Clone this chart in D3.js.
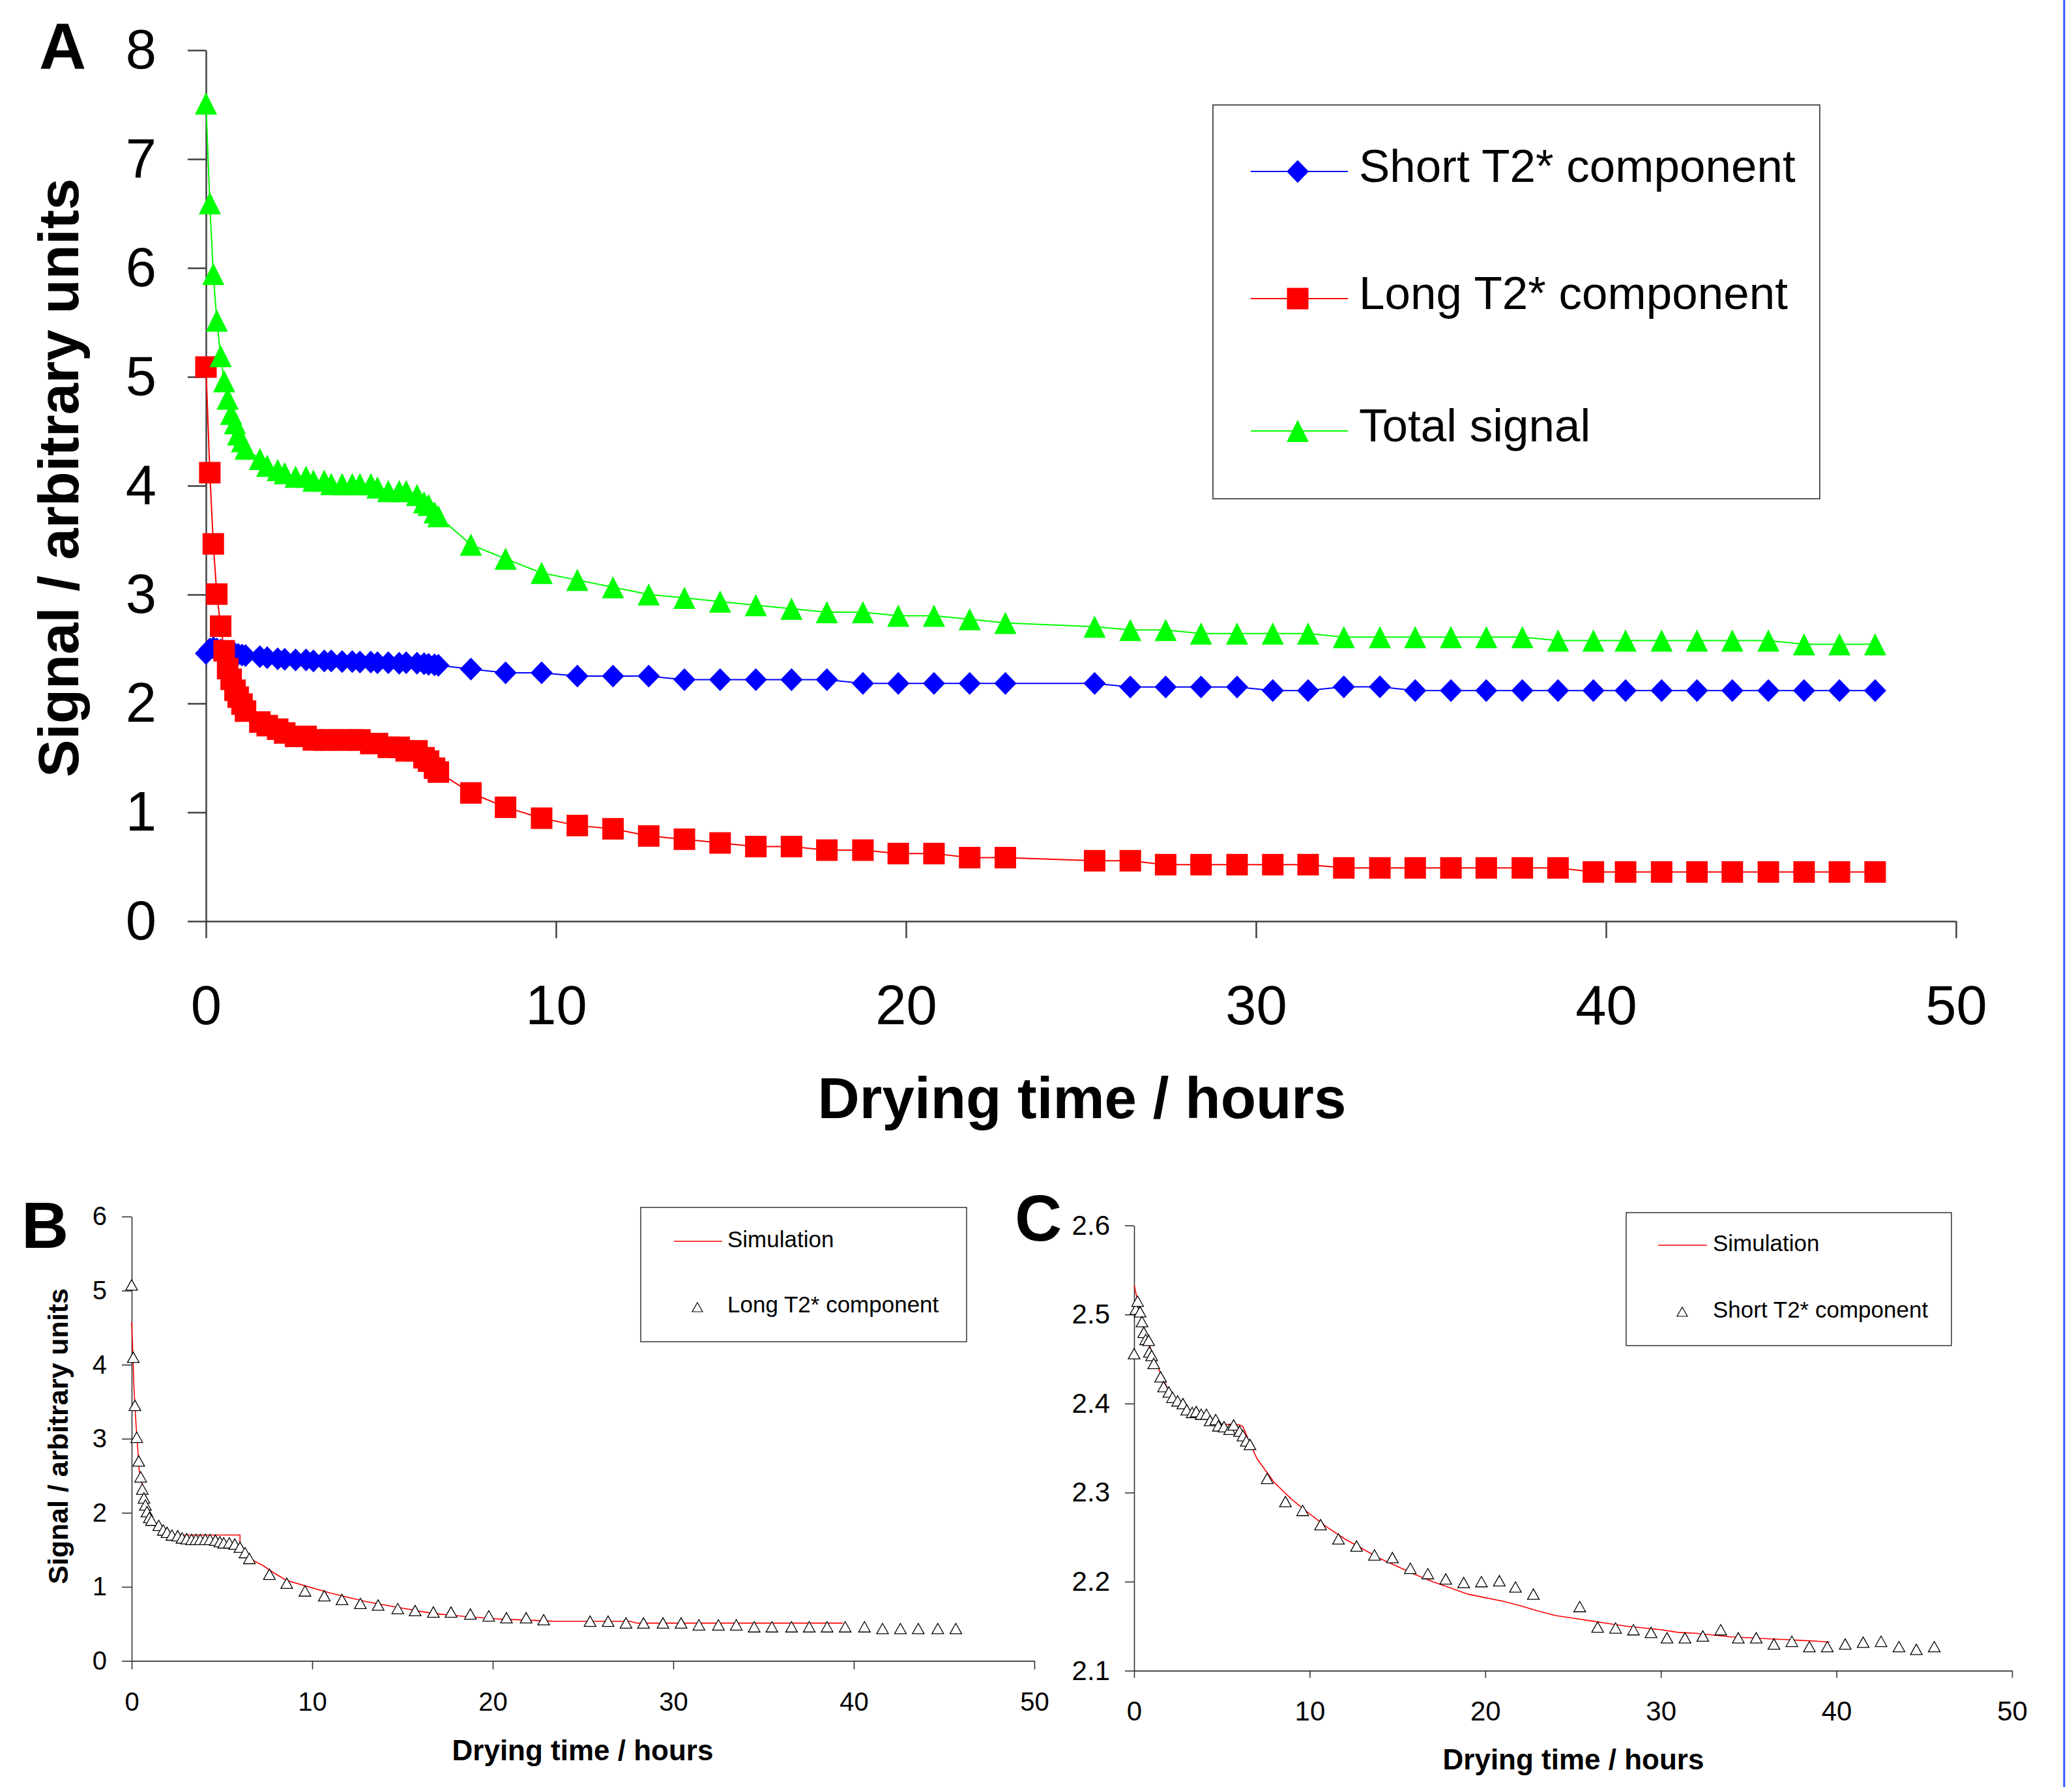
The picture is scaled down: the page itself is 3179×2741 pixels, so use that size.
<!DOCTYPE html>
<html>
<head>
<meta charset="utf-8">
<script src="https://cdn.jsdelivr.net/npm/d3@7"></script>
<style>
  body { margin: 0; background: #fff; }
  text { font-family: "Liberation Sans", Arial, Helvetica, sans-serif; }
</style>
</head>
<body>
<svg id="fig"></svg>
<script>
// ---------- data ----------
// Panel A: drying time (h) and the three signals
const aTime = [0, 0.11, 0.21, 0.31, 0.42, 0.52, 0.62, 0.72, 0.83, 0.92, 1.03, 1.13,
  1.54, 1.75, 2.05, 2.25, 2.56, 2.86, 3.07, 3.38, 3.58, 3.89, 4.18, 4.40, 4.71, 4.90,
  5.21, 5.52, 5.72, 6.03, 6.23, 6.36, 6.53, 6.64,
  7.57, 8.56, 9.59, 10.61, 11.63, 12.65, 13.67, 14.69, 15.71, 16.73, 17.74, 18.77,
  19.78, 20.80, 21.82, 22.84, 25.39, 26.41, 27.42, 28.43, 29.46, 30.48, 31.49, 32.51,
  33.54, 34.55, 35.57, 36.58, 37.61, 38.63, 39.64, 40.56, 41.59, 42.60, 43.61, 44.64,
  45.66, 46.67, 47.69];
const aShort = [2.46, 2.50, 2.51, 2.50, 2.49, 2.48, 2.47, 2.46, 2.455, 2.45, 2.445, 2.44,
  2.43, 2.42, 2.41, 2.405, 2.40, 2.40, 2.39, 2.39, 2.39, 2.385, 2.385, 2.38, 2.38, 2.375,
  2.375, 2.37, 2.375, 2.37, 2.365, 2.36, 2.355, 2.35,
  2.316, 2.282, 2.282, 2.251, 2.251, 2.251, 2.218, 2.218, 2.218, 2.218, 2.218, 2.184,
  2.184, 2.184, 2.184, 2.184, 2.184, 2.151, 2.151, 2.151, 2.151, 2.119, 2.119, 2.153,
  2.153, 2.119, 2.119, 2.119, 2.119, 2.119, 2.119, 2.119, 2.119, 2.119, 2.119, 2.119,
  2.119, 2.119, 2.119];
const aLong = [5.09, 4.12, 3.465, 3.004, 2.71, 2.483, 2.321, 2.221, 2.122, 2.058, 1.994, 1.93,
  1.829, 1.797, 1.763, 1.729, 1.697, 1.697, 1.665, 1.665, 1.665, 1.665, 1.665, 1.665, 1.632, 1.632,
  1.597, 1.597, 1.564, 1.564, 1.502, 1.47, 1.406, 1.37,
  1.178, 1.047, 0.946, 0.878, 0.849, 0.783, 0.753, 0.719, 0.686, 0.686, 0.652, 0.652,
  0.622, 0.622, 0.584, 0.584, 0.555, 0.555, 0.519, 0.519, 0.519, 0.519, 0.519, 0.489,
  0.489, 0.489, 0.489, 0.489, 0.489, 0.489, 0.452, 0.452, 0.452, 0.452, 0.452, 0.452,
  0.452, 0.452, 0.452];
const aTotal = [7.51, 6.595, 5.944, 5.517, 5.19, 4.96, 4.80, 4.66, 4.573, 4.472, 4.408, 4.34,
  4.246, 4.182, 4.143, 4.116, 4.083, 4.083, 4.047, 4.047, 4.015, 4.015, 4.015, 4.015, 4.015, 3.983,
  3.951, 3.951, 3.951, 3.914, 3.848, 3.823, 3.754, 3.72,
  3.458, 3.329, 3.199, 3.134, 3.067, 3.001, 2.970, 2.935, 2.903, 2.870, 2.838, 2.838,
  2.806, 2.806, 2.774, 2.739, 2.705, 2.675, 2.675, 2.642, 2.642, 2.642, 2.642, 2.610,
  2.610, 2.610, 2.610, 2.610, 2.610, 2.578, 2.578, 2.578, 2.578, 2.578, 2.578, 2.578,
  2.543, 2.543, 2.543];

// Panel B: long T2* component and its simulation
const bTime = [0, 0.09, 0.18, 0.28, 0.39, 0.5, 0.59, 0.68, 0.76, 0.85, 0.98, 1.1,
  1.5, 1.75, 1.96, 2.23, 2.55, 2.79, 3.05, 3.32, 3.56, 3.8, 4.08, 4.34, 4.64, 4.89,
  5.1, 5.41, 5.71, 6.0, 6.28, 6.52,
  7.63, 8.59, 9.6, 10.67, 11.65, 12.67, 13.65, 14.74, 15.7, 16.71, 17.69, 18.76,
  19.78, 20.76, 21.85, 22.82,
  25.39, 26.39, 27.38, 28.35, 29.43, 30.43, 31.42, 32.5, 33.49, 34.48, 35.46, 36.55,
  37.53, 38.52, 39.52, 40.59, 41.59, 42.58, 43.57, 44.65, 45.65];
const bLong = [5.077, 4.1, 3.45, 3.02, 2.70, 2.485, 2.32, 2.2, 2.105, 2.016, 1.937, 1.9,
  1.83, 1.768, 1.736, 1.70, 1.69, 1.66, 1.65, 1.64, 1.64, 1.64, 1.64, 1.64, 1.63, 1.61,
  1.594, 1.594, 1.578, 1.536, 1.462, 1.383,
  1.17, 1.05, 0.945, 0.88, 0.83, 0.776, 0.755, 0.707, 0.68, 0.66, 0.66, 0.633,
  0.608, 0.583, 0.583, 0.557,
  0.537, 0.537, 0.512, 0.512, 0.512, 0.512, 0.487, 0.487, 0.487, 0.461, 0.461, 0.461,
  0.461, 0.461, 0.461, 0.461, 0.437, 0.437, 0.437, 0.437, 0.437];
const bSimTime = [0, 0.05, 0.13, 0.24, 0.33, 0.42, 0.6, 0.8, 1.07, 1.35, 1.7, 2.27, 3.4,
  4.67, 6.0, 6.0, 6.33, 6.7, 7.26, 7.8, 8.55, 9.66, 11.1, 13, 14.8, 16.7, 18.5, 20.4,
  22, 23.3, 27.6, 28, 39.4];
const bSim = [4.575, 4.26, 3.68, 3.2, 2.89, 2.57, 2.36, 2.15, 1.94, 1.80, 1.73, 1.70, 1.70,
  1.70, 1.70, 1.57, 1.46, 1.36, 1.29, 1.2, 1.09, 1.01, 0.91, 0.8, 0.72, 0.64, 0.60, 0.565,
  0.55, 0.537, 0.535, 0.51, 0.51];

// Panel C: short T2* component and its simulation
const cTime = [0, 0.1, 0.2, 0.34, 0.45, 0.55, 0.66, 0.83, 0.87, 1.0, 1.12, 1.51, 1.68,
  1.98, 2.19, 2.48, 2.78, 3.0, 3.31, 3.54, 3.82, 4.12, 4.33, 4.65, 4.8, 5.12, 5.44, 5.67,
  6.01, 6.2, 6.39, 6.6,
  7.58, 8.62, 9.6, 10.62, 11.64, 12.67, 13.69, 14.71, 15.73, 16.73, 17.75, 18.77,
  19.78, 20.8, 21.72, 22.74,
  25.38, 26.4, 27.42, 28.44, 29.44, 30.35, 31.37, 32.39, 33.41, 34.41, 35.43, 36.44,
  37.46, 38.46, 39.48, 40.5, 41.52, 42.54, 43.56, 44.55, 45.57];
const cShort = [2.456, 2.506, 2.515, 2.503, 2.492, 2.48, 2.472, 2.471, 2.458, 2.454, 2.445,
  2.43, 2.419, 2.413, 2.407, 2.403, 2.40, 2.393, 2.39, 2.391, 2.388, 2.388, 2.381, 2.382,
  2.375, 2.374, 2.371, 2.376, 2.369, 2.364, 2.358, 2.354,
  2.316, 2.290, 2.28, 2.264, 2.248, 2.24, 2.23, 2.227, 2.215, 2.209, 2.203, 2.199,
  2.2, 2.201, 2.194, 2.186,
  2.172, 2.149, 2.148, 2.146, 2.143, 2.137, 2.137, 2.139, 2.146, 2.137, 2.137, 2.13,
  2.133, 2.127, 2.127, 2.13, 2.132, 2.133, 2.127, 2.124, 2.127];
const cSimTime = [0, 0.5, 1, 1.5, 2, 3, 4, 5, 6, 6.2, 6.5, 7, 8, 9, 10, 11, 12, 13, 14, 15,
  16, 17, 18, 19, 20, 21, 22, 23, 24, 25, 26, 27, 28, 29, 30, 31, 32, 33, 34, 35, 36, 37,
  38, 39, 39.6];
const cSim = [2.533, 2.49, 2.458, 2.434, 2.413, 2.395, 2.384, 2.377, 2.376, 2.374, 2.36,
  2.338, 2.311, 2.292, 2.276, 2.261, 2.248, 2.237, 2.226, 2.217, 2.208, 2.2, 2.193, 2.186,
  2.182, 2.178, 2.173, 2.167, 2.162, 2.159, 2.156, 2.153, 2.15, 2.148, 2.146, 2.143, 2.142,
  2.14, 2.138, 2.137, 2.136, 2.135, 2.134, 2.133, 2.132];

// ticks and labels
const xTicks = [0, 10, 20, 30, 40, 50];
const aYTicks = [0, 1, 2, 3, 4, 5, 6, 7, 8];
const bYTicks = [0, 1, 2, 3, 4, 5, 6];
const cYTicks = [2.1, 2.2, 2.3, 2.4, 2.5, 2.6];
const aSeriesNames = ["Short T2* component", "Long T2* component", "Total signal"];
const xTitle = "Drying time / hours";
const yTitle = "Signal / arbitrary units";

// ---------- drawing ----------
const W = 3179, H = 2741;
const svg = d3.select('#fig')
    .attr('width', W)
    .attr('height', H)
    .attr('viewBox', `0 0 ${W} ${H}`);

svg.append('rect').attr('width', W).attr('height', H).attr('fill', '#fff');

// marker shapes
function diamondPath(w, h) { return `M0,${-h / 2}L${w / 2},0L0,${h / 2}L${-w / 2},0Z`; }
function squarePath(s) { return `M${-s / 2},${-s / 2}h${s}v${s}h${-s}Z`; }
function trianglePath(w, h) { return `M0,${-h / 2}L${w / 2},${h / 2}L${-w / 2},${h / 2}Z`; }

// style an axis group
function styleAxis(g, color, width, fontSize) {
    g.attr('font-family', '"Liberation Sans", Arial, sans-serif')
        .attr('font-size', fontSize);
    g.select('.domain').attr('stroke', color).attr('stroke-width', width);
    g.selectAll('.tick line').attr('stroke', color).attr('stroke-width', width);
    g.selectAll('.tick text').attr('fill', '#000');
}

const intFormat = d3.format('d');

// ===== Panel A =====
const xA = d3.scaleLinear().domain([0, 50]).range([316, 3001]);
const yA = d3.scaleLinear().domain([0, 8]).range([1413, 77]);

svg.append('g')
    .attr('transform', `translate(0,${yA(0)})`)
    .call(d3.axisBottom(xA).tickValues(xTicks).tickFormat(intFormat)
        .tickSize(26).tickSizeOuter(0).tickPadding(72))
    .call(g => styleAxis(g, '#404040', 2.5, 85));

svg.append('g')
    .attr('transform', `translate(${xA(0)},0)`)
    .call(d3.axisLeft(yA).tickValues(aYTicks).tickFormat(intFormat)
        .tickSize(28).tickSizeOuter(0).tickPadding(48))
    .call(g => styleAxis(g, '#404040', 2.5, 85));

const aRows = aTime.map((t, i) => ({ t, s: aShort[i], l: aLong[i], tot: aTotal[i] }));

const aSeries = [
    { key: 's', color: '#0000ff', shape: diamondPath(34, 35) },
    { key: 'l', color: '#ff0000', shape: squarePath(33) },
    { key: 'tot', color: '#00ff00', shape: trianglePath(34, 34) }
];

aSeries.forEach(s => {
    const line = d3.line().x(d => xA(d.t)).y(d => yA(d[s.key]));
    svg.append('path')
        .datum(aRows)
        .attr('d', line)
        .attr('fill', 'none')
        .attr('stroke', s.color)
        .attr('stroke-width', 2);
    svg.append('g').selectAll('path')
        .data(aRows)
        .join('path')
        .attr('transform', d => `translate(${xA(d.t)},${yA(d[s.key])})`)
        .attr('d', s.shape)
        .attr('fill', s.color);
});

// axis titles A
svg.append('text')
    .attr('x', 1660).attr('y', 1715)
    .attr('text-anchor', 'middle')
    .attr('font-weight', 'bold')
    .attr('font-size', 89)
    .text(xTitle);

svg.append('text')
    .attr('transform', 'translate(120,733) rotate(-90)')
    .attr('text-anchor', 'middle')
    .attr('font-weight', 'bold')
    .attr('font-size', 87)
    .text(yTitle);

svg.append('text')
    .attr('x', 60).attr('y', 106)
    .attr('font-weight', 'bold')
    .attr('font-size', 100)
    .text('A');

// legend A
const legA = svg.append('g');
legA.append('rect')
    .attr('x', 1861).attr('y', 161).attr('width', 931).attr('height', 604)
    .attr('fill', '#fff').attr('stroke', '#555').attr('stroke-width', 2);
const legRowsY = [263, 458, 661];
aSeries.forEach((s, i) => {
    const y = legRowsY[i];
    legA.append('line')
        .attr('x1', 1919).attr('x2', 2068).attr('y1', y).attr('y2', y)
        .attr('stroke', s.color).attr('stroke-width', 2);
    legA.append('path')
        .attr('transform', `translate(1991,${y})`)
        .attr('d', s.shape)
        .attr('fill', s.color);
    legA.append('text')
        .attr('x', 2085).attr('y', y + 16)
        .attr('font-size', 71)
        .text(aSeriesNames[i]);
});

// ===== Panel B =====
const xB = d3.scaleLinear().domain([0, 50]).range([202, 1587]);
const yB = d3.scaleLinear().domain([0, 6]).range([2547.6, 1866]);

svg.append('g')
    .attr('transform', `translate(0,${yB(0)})`)
    .call(d3.axisBottom(xB).tickValues(xTicks).tickFormat(intFormat)
        .tickSize(13).tickSizeOuter(0).tickPadding(35))
    .call(g => styleAxis(g, '#333', 1.6, 40));

svg.append('g')
    .attr('transform', `translate(${xB(0)},0)`)
    .call(d3.axisLeft(yB).tickValues(bYTicks).tickFormat(intFormat)
        .tickSize(15).tickSizeOuter(0).tickPadding(23))
    .call(g => styleAxis(g, '#333', 1.6, 40));

const bSimRows = bSimTime.map((t, i) => ({ t, v: bSim[i] }));
svg.append('path')
    .datum(bSimRows)
    .attr('d', d3.line().x(d => xB(d.t)).y(d => yB(d.v)))
    .attr('fill', 'none').attr('stroke', '#ff0000').attr('stroke-width', 1.6);

const bRows = bTime.map((t, i) => ({ t, v: bLong[i] }));
svg.append('g').selectAll('path')
    .data(bRows)
    .join('path')
    .attr('transform', d => `translate(${xB(d.t)},${yB(d.v)})`)
    .attr('d', trianglePath(18, 16))
    .attr('fill', '#fff').attr('stroke', '#000').attr('stroke-width', 1.3);

svg.append('text')
    .attr('x', 894).attr('y', 2700)
    .attr('text-anchor', 'middle')
    .attr('font-weight', 'bold')
    .attr('font-size', 44)
    .text(xTitle);

svg.append('text')
    .attr('transform', 'translate(104,2203) rotate(-90)')
    .attr('text-anchor', 'middle')
    .attr('font-weight', 'bold')
    .attr('font-size', 43)
    .text(yTitle);

svg.append('text')
    .attr('x', 33).attr('y', 1914)
    .attr('font-weight', 'bold')
    .attr('font-size', 100)
    .text('B');

// legend B
const legB = svg.append('g');
legB.append('rect')
    .attr('x', 983).attr('y', 1852).attr('width', 500).attr('height', 206)
    .attr('fill', '#fff').attr('stroke', '#333').attr('stroke-width', 1.5);
legB.append('line')
    .attr('x1', 1034).attr('x2', 1108).attr('y1', 1904).attr('y2', 1904)
    .attr('stroke', '#ff0000').attr('stroke-width', 1.5);
legB.append('text').attr('x', 1116).attr('y', 1913).attr('font-size', 35).text('Simulation');
legB.append('path')
    .attr('transform', 'translate(1070,2005)')
    .attr('d', trianglePath(16, 14))
    .attr('fill', '#fff').attr('stroke', '#000').attr('stroke-width', 1.2);
legB.append('text').attr('x', 1116).attr('y', 2013).attr('font-size', 35).text('Long T2* component');

// ===== Panel C =====
const xC = d3.scaleLinear().domain([0, 50]).range([1740, 3087]);
const yC = d3.scaleLinear().domain([2.1, 2.6]).range([2562.6, 1879.7]);

svg.append('g')
    .attr('transform', `translate(0,${yC(2.1)})`)
    .call(d3.axisBottom(xC).tickValues(xTicks).tickFormat(intFormat)
        .tickSize(11).tickSizeOuter(0).tickPadding(36))
    .call(g => styleAxis(g, '#333', 1.6, 42));

svg.append('g')
    .attr('transform', `translate(${xC(0)},0)`)
    .call(d3.axisLeft(yC).tickValues(cYTicks).tickFormat(d3.format('.1f'))
        .tickSize(14).tickSizeOuter(0).tickPadding(23))
    .call(g => styleAxis(g, '#333', 1.6, 42));

const cSimRows = cSimTime.map((t, i) => ({ t, v: cSim[i] }));
svg.append('path')
    .datum(cSimRows)
    .attr('d', d3.line().x(d => xC(d.t)).y(d => yC(d.v)))
    .attr('fill', 'none').attr('stroke', '#ff0000').attr('stroke-width', 1.6);

const cRows = cTime.map((t, i) => ({ t, v: cShort[i] }));
svg.append('g').selectAll('path')
    .data(cRows)
    .join('path')
    .attr('transform', d => `translate(${xC(d.t)},${yC(d.v)})`)
    .attr('d', trianglePath(18, 16))
    .attr('fill', '#fff').attr('stroke', '#000').attr('stroke-width', 1.3);

svg.append('text')
    .attr('x', 2414).attr('y', 2714)
    .attr('text-anchor', 'middle')
    .attr('font-weight', 'bold')
    .attr('font-size', 44)
    .text(xTitle);

svg.append('text')
    .attr('x', 1557).attr('y', 1903)
    .attr('font-weight', 'bold')
    .attr('font-size', 100)
    .text('C');

// legend C
const legC = svg.append('g');
legC.append('rect')
    .attr('x', 2495).attr('y', 1860).attr('width', 499).attr('height', 204)
    .attr('fill', '#fff').attr('stroke', '#333').attr('stroke-width', 1.5);
legC.append('line')
    .attr('x1', 2544).attr('x2', 2619).attr('y1', 1910).attr('y2', 1910)
    .attr('stroke', '#ff0000').attr('stroke-width', 1.5);
legC.append('text').attr('x', 2628).attr('y', 1919).attr('font-size', 35).text('Simulation');
legC.append('path')
    .attr('transform', 'translate(2581,2012)')
    .attr('d', trianglePath(16, 14))
    .attr('fill', '#fff').attr('stroke', '#000').attr('stroke-width', 1.2);
legC.append('text').attr('x', 2628).attr('y', 2021).attr('font-size', 35).text('Short T2* component');

// thin blue border at the right edge of the figure
svg.append('line')
    .attr('x1', 3167).attr('x2', 3167).attr('y1', 0).attr('y2', H)
    .attr('stroke', '#3355ff').attr('stroke-width', 3);
</script>
</body>
</html>
